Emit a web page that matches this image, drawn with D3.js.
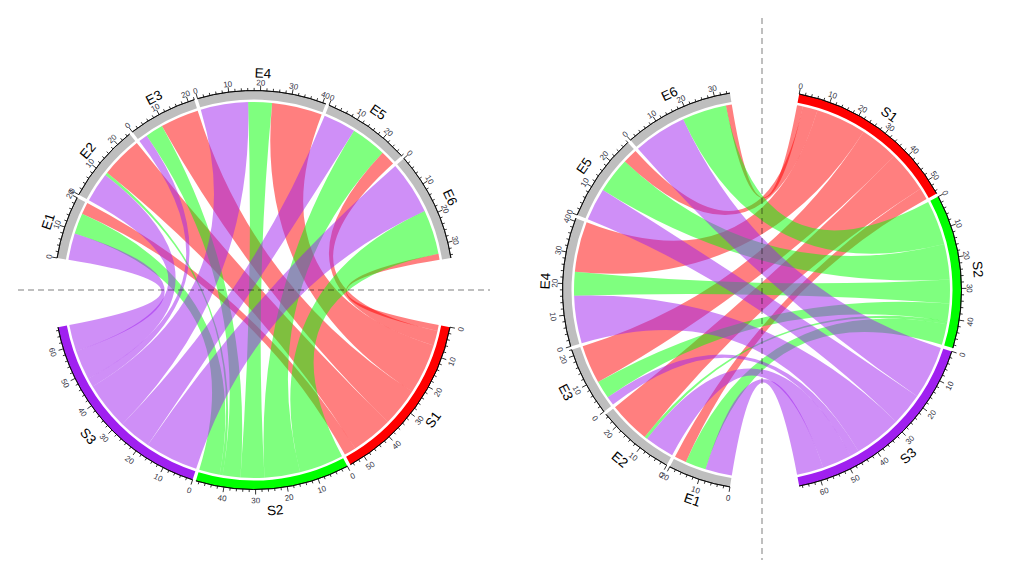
<!DOCTYPE html>
<html><head><meta charset="utf-8">
<script src="https://cdn.jsdelivr.net/npm/d3@7"></script>
<style>body{margin:0;background:#fff} svg{display:block}</style>
</head><body>
<svg id="chart" width="1016" height="578"></svg>
<script>
// ---- data ----
const rowNames = ["S1","S2","S3"];
const colNames = ["E1","E2","E3","E4","E5","E6"];
const S1 = [4,14,13,17,5,2];
const S2 = [7,1,6,8,12,15];
const S3 = [9,10,3,16,11,18];
const matrix = [S1,S2,S3];
const rowColors = ["#FF0000","#00FF00","#A020F0"];
const colColor = "#BEBEBE";
const majorStep = 10, minorStep = 2;
const bigGap = 20, smallGap = 1;

// ---- layout ----
const W = 1016, H = 578;
const svg = d3.select("#chart");
const rLink = 188, rIn = 190.5, rOut = 199.5;
const majorLen = 5, minorLen = 2.6;
const FONT = "'Liberation Sans', Arial, Helvetica, sans-serif";

const rowSums = matrix.map(r => d3.sum(r));
const colSums = colNames.map((c, j) => d3.sum(matrix, r => r[j]));
const total = d3.sum(rowSums);
const sectors = [
  ...rowNames.map((n, i) => ({name: n, size: rowSums[i], color: rowColors[i], type: "row", idx: i})),
  ...colNames.map((n, j) => ({name: n, size: colSums[j], color: colColor, type: "col", idx: j}))
];
const dataDeg = 360 - 2 * bigGap - (sectors.length - 2) * smallGap;
const unit = d3.scaleLinear().domain([0, 2 * total]).range([0, dataDeg]);
const rad = d => d * Math.PI / 180;

function layout(startS1) {
  let a = startS1;
  return sectors.map((s, k) => {
    const o = Object.assign({}, s, {a0: a, a1: a + unit(s.size)});
    a = o.a1 + ((k === rowNames.length - 1 || k === sectors.length - 1) ? bigGap : smallGap);
    return o;
  });
}

function drawPanel(cx, cy, rotation, lineDir, plot) {
  const eSpan = unit(total) + (colNames.length - 1) * smallGap;
  const sSpan = unit(total) + (rowNames.length - 1) * smallGap;
  const e1Start = -eSpan / 2 + rotation;
  const s1Start = e1Start - bigGap - sSpan;
  const secs = layout(s1Start);
  const rowSec = secs.filter(s => s.type === "row");
  const colSec = secs.filter(s => s.type === "col");

  const slots = {};
  rowSec.forEach((s, i) => {
    let p = 0;
    for (let j = colNames.length - 1; j >= 0; j--) {
      const v = matrix[i][j];
      slots["r" + i + "_" + j] = [s.a0 + unit(p), s.a0 + unit(p + v)];
      p += v;
    }
  });
  colSec.forEach((s, j) => {
    let p = 0;
    for (let i = rowNames.length - 1; i >= 0; i--) {
      const v = matrix[i][j];
      slots["c" + i + "_" + j] = [s.a0 + unit(p), s.a0 + unit(p + v)];
      p += v;
    }
  });

  const g = svg.append("g").attr("transform", `translate(${cx},${cy})`);
  const ribbon = d3.ribbon().radius(rLink);
  const links = [];
  colNames.forEach((c, j) => rowNames.forEach((r, i) => links.push({i, j})));
  g.selectAll("path.link").data(links).enter().append("path")
    .attr("class", "link")
    .attr("d", d => {
      const s = slots["r" + d.i + "_" + d.j], t = slots["c" + d.i + "_" + d.j];
      return ribbon({source: {startAngle: rad(s[0]), endAngle: rad(s[1])},
                     target: {startAngle: rad(t[0]), endAngle: rad(t[1])}});
    })
    .attr("fill", d => rowColors[d.i]).attr("fill-opacity", 0.5).attr("stroke", "none");

  const arc = d3.arc().innerRadius(rIn).outerRadius(rOut);
  g.selectAll("path.grid").data(secs).enter().append("path")
    .attr("class", "grid")
    .attr("d", s => arc({startAngle: rad(s.a0), endAngle: rad(s.a1)}))
    .attr("fill", s => s.color);

  const axisArc = d3.arc().innerRadius(rOut).outerRadius(rOut);
  const pt = (a, r) => [r * Math.sin(rad(a)), -r * Math.cos(rad(a))];
  const norm = a => ((a % 360) + 360) % 360;
  const isBottom = a => { const n = norm(a); return n > 90 && n < 270; };
  const rotFor = a => { const n = norm(a); return isBottom(a) ? n - 180 : n; };
  secs.forEach(s => {
    g.append("path").attr("d", axisArc({startAngle: rad(s.a0), endAngle: rad(s.a1)}))
      .attr("fill", "none").attr("stroke", "#000").attr("stroke-width", 0.8);
    d3.range(0, s.size + 1e-9, minorStep).forEach(v => {
      const a = s.a0 + unit(v);
      const major = v % majorStep === 0;
      const p0 = pt(a, rOut), p1 = pt(a, rOut + (major ? majorLen : minorLen));
      g.append("line").attr("x1", p0[0]).attr("y1", p0[1]).attr("x2", p1[0]).attr("y2", p1[1])
        .attr("stroke", "#000").attr("stroke-width", 0.8);
    });
    d3.range(0, s.size + 1e-9, majorStep).forEach(v => {
      const a = s.a0 + unit(v);
      const p = pt(a, isBottom(a) ? 210.5 : 207.5);
      g.append("text").attr("transform", `translate(${p[0]},${p[1]}) rotate(${rotFor(a)})`)
        .attr("text-anchor", "middle").attr("dy", "0.35em")
        .attr("font-family", FONT).attr("font-size", 8).attr("fill", "#333344")
        .text(v);
    });
    const am = (s.a0 + s.a1) / 2;
    const pn = pt(am, isBottom(am) ? 221 : 217);
    g.append("text").attr("transform", `translate(${pn[0]},${pn[1]}) rotate(${rotFor(am)})`)
      .attr("text-anchor", "middle").attr("dy", "0.35em")
      .attr("font-family", FONT).attr("font-size", 13.5).attr("fill", "#000")
      .text(s.name);
  });

  // dashed reference line through the centre, drawn last
  if (lineDir === "h") {
    svg.append("line").attr("x1", plot[0]).attr("x2", plot[1]).attr("y1", cy).attr("y2", cy)
      .attr("stroke", "#000").attr("stroke-opacity", 0.5).attr("stroke-dasharray", "6,4").attr("stroke-width", 1);
  } else {
    svg.append("line").attr("x1", cx).attr("x2", cx).attr("y1", plot[0]).attr("y2", plot[1])
      .attr("stroke", "#000").attr("stroke-opacity", 0.5).attr("stroke-dasharray", "6,4").attr("stroke-width", 1);
  }
}

drawPanel(254, 290, 0, "h", [18, 490]);
drawPanel(762, 290, -90, "v", [18, 560]);
</script>
</body></html>
